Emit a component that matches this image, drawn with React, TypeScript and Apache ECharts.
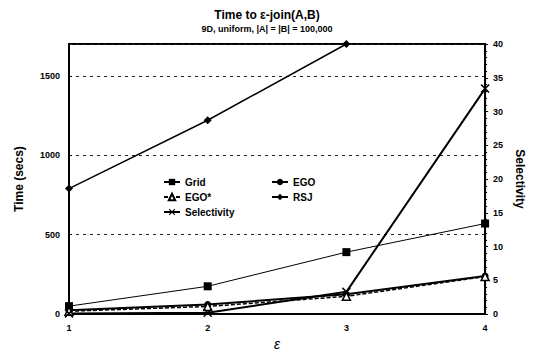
import React, { useEffect, useRef } from "react";
import * as echarts from "echarts";

// epsilon values on the x axis
const epsilons = [1, 2, 3, 4];

// join time in seconds (left axis)
const gridTimes = [50, 175, 390, 570];
const egoTimes = [25, 60, 125, 240];
const egoStarTimes = [18, 48, 112, 236];
const rsjTimes = [790, 1220, 1700];

// selectivity (right axis)
const selectivity = [0.1, 0.2, 3.3, 33.4];

const FONT = "Liberation Sans, Arial, sans-serif";
const X_SYMBOL =
  "path://M0,1.2 L1.2,0 L5,3.8 L8.8,0 L10,1.2 L6.2,5 L10,8.8 L8.8,10 L5,6.2 L1.2,10 L0,8.8 L3.8,5 Z";

const pairs = (ys: number[]) => ys.map((y, i) => [epsilons[i], y]);

export default function App() {
  const ref = useRef<HTMLDivElement>(null);

  useEffect(() => {
    if (!ref.current) return;
    const chart = echarts.init(ref.current, undefined, { renderer: "svg" });
    const textBase = { fontFamily: FONT, fontWeight: "bold" as const, color: "#000" };

    chart.setOption({
      animation: false,
      backgroundColor: "#fff",
      title: {
        text: "Time to ε-join(A,B)",
        subtext: "9D, uniform, |A| = |B| = 100,000",
        left: "center",
        top: 4,
        itemGap: 3,
        textStyle: { ...textBase, fontSize: 12 },
        subtextStyle: { ...textBase, fontSize: 9 },
      },
      grid: {
        left: 69,
        right: 45,
        top: 44,
        bottom: 29,
        show: true,
        borderColor: "#000",
        borderWidth: 2,
      },
      legend: [
        {
          data: ["Grid", "EGO*", "Selectivity"],
          orient: "vertical",
          left: 158,
          top: 172,
          itemGap: 5,
          itemWidth: 16,
          itemHeight: 8,
          textStyle: { ...textBase, fontSize: 10 },
        },
        {
          data: ["EGO", "RSJ"],
          orient: "vertical",
          left: 266,
          top: 172,
          itemGap: 5,
          itemWidth: 16,
          itemHeight: 8,
          textStyle: { ...textBase, fontSize: 10 },
        },
      ],
      xAxis: {
        type: "value",
        min: 1,
        max: 4,
        interval: 1,
        name: "ε",
        nameLocation: "middle",
        nameGap: 18,
        nameTextStyle: { fontFamily: FONT, fontStyle: "italic", fontSize: 14, color: "#000" },
        axisLine: { lineStyle: { color: "#000", width: 2 } },
        axisTick: { show: false },
        axisLabel: { ...textBase, fontSize: 9, margin: 9 },
        splitLine: { show: false },
      },
      yAxis: [
        {
          type: "value",
          min: 0,
          max: 1700,
          interval: 500,
          name: "Time (secs)",
          nameLocation: "middle",
          nameRotate: 90,
          nameGap: 44,
          nameTextStyle: { ...textBase, fontSize: 12 },
          axisLine: { show: true, lineStyle: { color: "#000", width: 2 } },
          axisTick: { show: true, inside: true, length: 3, lineStyle: { color: "#000" } },
          axisLabel: {
            ...textBase,
            fontSize: 9,
            margin: 9,
            showMaxLabel: false,
            formatter: (v: number) => String(v),
          },
          splitLine: { show: true, lineStyle: { color: "#222", width: 1, type: [3, 4] } },
        },
        {
          type: "value",
          min: 0,
          max: 40,
          interval: 5,
          position: "right",
          name: "Selectivity",
          nameLocation: "middle",
          nameRotate: -90,
          nameGap: 26,
          nameTextStyle: { ...textBase, fontSize: 12 },
          axisLine: { show: true, lineStyle: { color: "#000", width: 2 } },
          axisTick: { show: true, length: 3, lineStyle: { color: "#000" } },
          minorTick: { show: true, splitNumber: 5, length: 2, lineStyle: { color: "#000" } },
          axisLabel: { ...textBase, fontSize: 9, margin: 8 },
          splitLine: { show: false },
        },
      ],
      series: [
        {
          name: "Grid",
          type: "line",
          yAxisIndex: 0,
          data: pairs(gridTimes),
          symbol: "rect",
          symbolSize: 8,
          lineStyle: { color: "#000", width: 1 },
          itemStyle: { color: "#000" },
        },
        {
          name: "EGO",
          type: "line",
          yAxisIndex: 0,
          data: pairs(egoTimes),
          symbol: "circle",
          symbolSize: 7,
          lineStyle: { color: "#000", width: 2 },
          itemStyle: { color: "#000" },
        },
        {
          name: "EGO*",
          type: "line",
          yAxisIndex: 0,
          data: pairs(egoStarTimes),
          symbol: "triangle",
          symbolSize: 8,
          lineStyle: { color: "#000", width: 1.5, type: [4, 2] },
          itemStyle: { color: "#fff", borderColor: "#000", borderWidth: 1.5 },
        },
        {
          name: "RSJ",
          type: "line",
          yAxisIndex: 0,
          data: pairs(rsjTimes),
          symbol: "diamond",
          symbolSize: 8,
          lineStyle: { color: "#000", width: 1.5 },
          itemStyle: { color: "#000" },
        },
        {
          name: "Selectivity",
          type: "line",
          yAxisIndex: 1,
          data: pairs(selectivity),
          symbol: X_SYMBOL,
          symbolSize: 9,
          lineStyle: { color: "#000", width: 2 },
          itemStyle: { color: "#000" },
        },
      ],
    });

    return () => chart.dispose();
  }, []);

  return <div ref={ref} style={{ width: 534, height: 356, position: "absolute", left: 0, top: 0 }} />;
}
